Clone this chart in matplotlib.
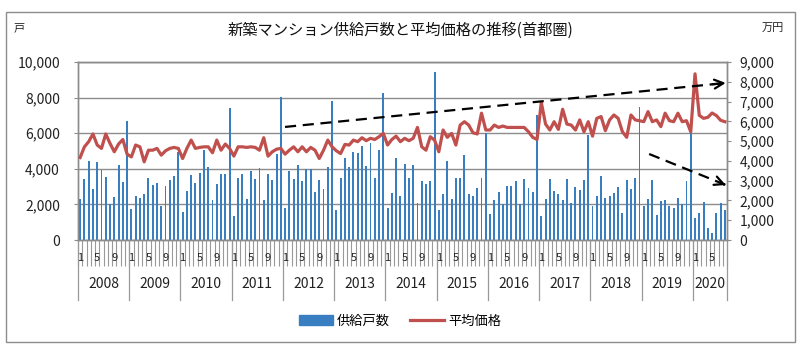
import numpy as np
import matplotlib
matplotlib.use('Agg')
import matplotlib.pyplot as plt
import matplotlib.transforms as mtransforms
from matplotlib.patches import Rectangle, Patch
from matplotlib.lines import Line2D
from matplotlib.ticker import FuncFormatter

plt.rcParams['font.family'] = ['Noto Sans CJK JP', 'DejaVu Sans']

# ---- data ----
years = ['2008', '2009', '2010', '2011', '2012', '2013', '2014',
         '2015', '2016', '2017', '2018', '2019', '2020']
months_in_year = [12] * 12 + [8]
month_marks = [1, 5, 9]

# 供給戸数 (戸), monthly Jan 2008 - Aug 2020
supply = [
    2320, 3450, 4430, 2840, 4370, 3950, 3540, 2000, 2410, 4220, 3260, 6700,   # 2008
    1750, 2490, 2370, 2600, 3500, 3070, 3200, 1900, 3050, 3390, 3620, 4950,   # 2009
    1560, 2750, 3670, 3200, 3770, 5080, 4110, 2220, 3160, 3690, 3690, 7400,   # 2010
    1360, 3470, 3690, 2320, 3880, 3430, 4050, 2260, 3690, 3350, 4820, 8020,   # 2011
    1810, 3880, 3450, 4200, 3310, 3990, 3990, 2690, 3350, 2880, 4110, 7780,   # 2012
    1690, 3480, 4610, 4110, 4950, 4900, 5290, 4140, 5460, 3500, 5050, 8250,   # 2013
    1810, 2640, 4630, 2470, 4290, 3500, 4200, 2070, 3310, 3130, 3310, 9420,   # 2014
    1660, 2600, 4440, 2280, 3480, 3480, 4800, 2600, 2450, 2920, 3480, 5990,   # 2015
    1470, 2220, 2670, 2000, 3010, 3050, 3310, 2000, 3410, 2900, 2690, 7020,   # 2016
    1370, 2300, 3410, 2750, 2600, 2260, 3430, 2070, 2980, 2820, 3390, 5900,   # 2017
    1920, 2490, 3620, 2340, 2470, 2660, 2980, 1510, 3390, 2880, 3470, 7460,   # 2018
    1900, 2320, 3350, 1430, 2200, 2260, 1920, 1810, 2350, 2000, 3300, 6270,   # 2019
    1240, 1510, 2130, 680, 380, 1540, 2070, 1660,                             # 2020
]

# 平均価格 (万円)
price = [
    4170, 4710, 4970, 5360, 4800, 4630, 5360, 4880, 4460, 4850, 5080, 4340,   # 2008
    4200, 4800, 4710, 3950, 4540, 4540, 4630, 4290, 4510, 4630, 4680, 4630,   # 2009
    4120, 4630, 5050, 4630, 4680, 4710, 4710, 4410, 5050, 4540, 4850, 4630,   # 2010
    4240, 4710, 4710, 4680, 4710, 4680, 4540, 5170, 4240, 4460, 4590, 4630,   # 2011
    4340, 4540, 4710, 4460, 4710, 4460, 4680, 4540, 4120, 4540, 5050, 4710,   # 2012
    4510, 4370, 4830, 4800, 5050, 4970, 5170, 5020, 5140, 5080, 5220, 5390,   # 2013
    4800, 5080, 5250, 4970, 5140, 5020, 5140, 5690, 4710, 4540, 5220, 5050,   # 2014
    4460, 5560, 5190, 5390, 4800, 5810, 5980, 5810, 5420, 5360, 6410, 5560,   # 2015
    5560, 5810, 5690, 5760, 5690, 5690, 5690, 5690, 5690, 5470, 5190, 5080,   # 2016
    6950, 5860, 5560, 5980, 5590, 6610, 5860, 5810, 5560, 6070, 5470, 5980,   # 2017
    5250, 6150, 6240, 5530, 6070, 6320, 6150, 5470, 5190, 6320, 6070, 6030,   # 2018
    5980, 6490, 5980, 6070, 5730, 6410, 6030, 5980, 6410, 5980, 6030, 5470,   # 2019
    8400, 6300, 6150, 6200, 6420, 6290, 6050, 5980,                           # 2020
]

title = '新築マンション供給戸数と平均価格の推移(首都圏)'
left_unit = '戸'
right_unit = '万円'
legend_labels = ['供給戸数', '平均価格']

# ---- figure ----
fig = plt.figure(figsize=(8.0, 3.54), dpi=100)
fig.patch.set_facecolor('white')
ax = fig.add_axes([0.0975, 0.322, 0.8113, 0.503])
ax2 = ax.twinx()

n = len(supply)
x = np.arange(n)
bar_color = '#3A7EC2'
line_color = '#C0504D'
grid_color = '#8C8C8C'

ax.bar(x, supply, width=0.45, color=bar_color, zorder=2)
ax.set_xlim(-0.5, n - 0.5)
ax.set_ylim(0, 10000)
ax.set_yticks(range(0, 10001, 2000))
ax.yaxis.set_major_formatter(FuncFormatter(lambda v, p: f'{int(v):,}'))
ax.grid(axis='y', color=grid_color, lw=1.0, zorder=0)
ax.set_axisbelow(True)

ax2.plot(x, price, color=line_color, lw=2.3, solid_joinstyle='round', zorder=3)
ax2.set_ylim(0, 9000)
ax2.set_yticks(range(0, 9001, 1000))
ax2.yaxis.set_major_formatter(FuncFormatter(lambda v, p: f'{int(v):,}'))

for a in (ax, ax2):
    for s in a.spines.values():
        s.set_color(grid_color)
        s.set_linewidth(1.0)
ax.tick_params(axis='y', labelsize=10, colors=grid_color, labelcolor='#222222', length=3, pad=10)
ax2.tick_params(axis='y', labelsize=10, colors=grid_color, labelcolor='#222222', length=3, pad=6)

# month tick marks at category boundaries
ax.set_xticks(np.arange(-0.5, n, 1.0))
ax.set_xticklabels([])
ax.tick_params(axis='x', length=19, width=0.8, colors='#999999', direction='out')

trans = mtransforms.blended_transform_factory(ax.transData, ax.transAxes)
start = 0
for yr, cnt in zip(years, months_in_year):
    for m in month_marks:
        if m <= cnt:
            ax.text(start + m - 1, -0.10, str(m), transform=trans, ha='center',
                    va='center', fontsize=8, color='#222222')
    ax.text(start + (cnt - 1) / 2.0, -0.245, yr, transform=trans, ha='center',
            va='center', fontsize=10, color='#222222')
    ax.add_line(Line2D([start - 0.5, start - 0.5], [0, -0.335], transform=trans,
                       color='#999999', lw=0.9, clip_on=False))
    start += cnt
ax.add_line(Line2D([start - 0.5, start - 0.5], [0, -0.335], transform=trans,
                   color='#999999', lw=0.9, clip_on=False))

# dashed arrows (trend annotations)
def dashed_arrow(a, p0, p1):
    a.add_line(Line2D([p0[0], p1[0]], [p0[1], p1[1]], transform=a.transAxes,
                      color='black', lw=1.6, linestyle=(0, (5, 3)), clip_on=False, zorder=5))
    d = np.array(p1) - np.array(p0)
    q = np.array(p1) - d * 0.03
    a.annotate('', xy=p1, xytext=tuple(q), xycoords='axes fraction',
               textcoords='axes fraction',
               arrowprops=dict(arrowstyle='->', color='black', lw=1.6,
                               mutation_scale=16, shrinkA=0, shrinkB=0),
               annotation_clip=False, zorder=5)

dashed_arrow(ax2, (0.319, 0.635), (0.998, 0.882))
dashed_arrow(ax2, (0.880, 0.483), (0.998, 0.309))

# titles and units
fig.text(0.5, 0.915, title, ha='center', va='center', fontsize=11, color='#111111')
fig.text(0.017, 0.92, left_unit, ha='left', va='center', fontsize=8, color='#222222')
fig.text(0.952, 0.92, right_unit, ha='left', va='center', fontsize=8, color='#222222')

# legend
handles = [Patch(facecolor=bar_color, edgecolor=bar_color),
           Line2D([0], [0], color=line_color, lw=2.3)]
fig.legend(handles, legend_labels, loc='center', bbox_to_anchor=(0.5, 0.093),
           ncol=2, frameon=False, fontsize=9.5, handlelength=2.6,
           columnspacing=1.5, handletextpad=0.3)

# outer chart border
fig.add_artist(Rectangle((6 / 800, 1 - 342 / 354), 789 / 800, 330 / 354,
                         transform=fig.transFigure, fill=False,
                         edgecolor='#8C8C8C', lw=1.0))

fig.savefig('out.png', dpi=100, facecolor='white')
